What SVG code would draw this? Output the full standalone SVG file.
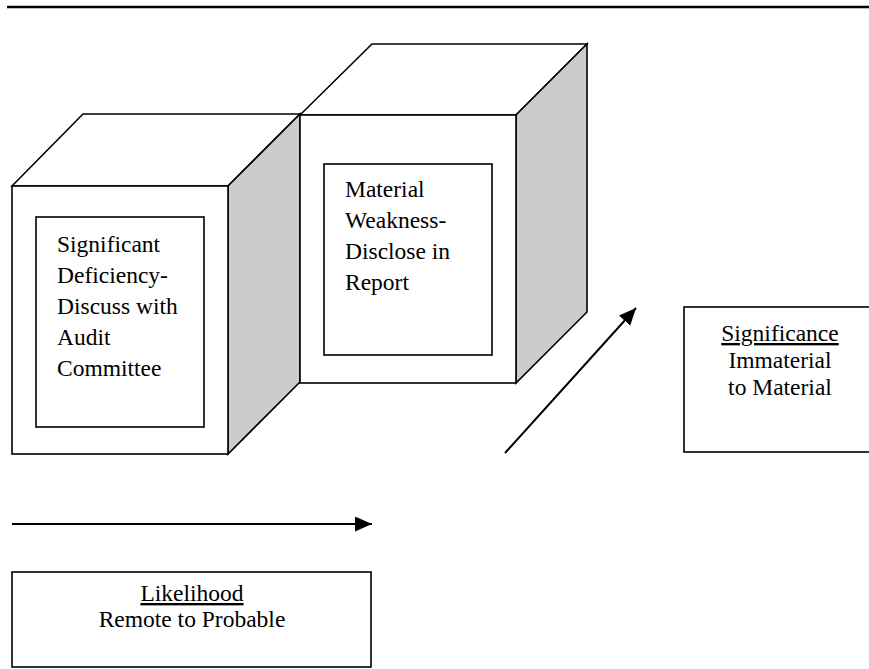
<svg xmlns="http://www.w3.org/2000/svg" width="869" height="669" viewBox="0 0 869 669">
<style>
.e{stroke:#000;stroke-width:1.6;stroke-linejoin:miter}
.w{fill:#fff}
.g{fill:#cccccc}
.b{fill:#fff;stroke:#000;stroke-width:1.6}
.t{font-family:"Liberation Serif","Times New Roman",serif;font-size:23.5px;fill:#000}
.c{text-anchor:middle}
.a{stroke:#000;stroke-width:2;fill:none}
</style>
<defs>
<marker id="ah" markerUnits="userSpaceOnUse" markerWidth="18" markerHeight="16" refX="17" refY="7.5" orient="auto">
<path d="M0,0 L17,7.5 L0,15 z" fill="#000"/>
</marker>
</defs>
<line x1="7" y1="7" x2="869" y2="7" stroke="#000" stroke-width="2.4"/>
<g id="cube-significant">
<polygon class="e w" points="12,186 83,114 300,114 228,186"/>
<polygon class="e g" points="228,186 300,114 300,382 228,454"/>
<rect class="e w" x="12" y="186" width="216" height="268"/>
<rect class="b" x="36" y="217" width="168" height="210"/>
<text class="t" x="57" y="252">Significant</text>
<text class="t" x="57" y="283">Deficiency-</text>
<text class="t" x="57" y="314">Discuss with</text>
<text class="t" x="57" y="345">Audit</text>
<text class="t" x="57" y="376">Committee</text>
</g>
<g id="cube-material">
<polygon class="e w" points="300,115 372,44 587,44 516,115"/>
<polygon class="e g" points="516,115 587,44 587,312 516,383"/>
<rect class="e w" x="300" y="115" width="216" height="268"/>
<rect class="b" x="324" y="164" width="168" height="191"/>
<text class="t" x="345" y="197">Material</text>
<text class="t" x="345" y="228">Weakness-</text>
<text class="t" x="345" y="259">Disclose in</text>
<text class="t" x="345" y="290">Report</text>
</g>
<g id="significance">
<rect class="b" x="684" y="307" width="190" height="145"/>
<text class="t c" x="780" y="341" text-decoration="underline">Significance</text>
<text class="t c" x="780" y="368">Immaterial</text>
<text class="t c" x="780" y="395">to Material</text>
</g>
<g id="likelihood">
<rect class="b" x="12" y="572" width="359" height="95"/>
<text class="t c" x="192" y="601" text-decoration="underline">Likelihood</text>
<text class="t c" x="192" y="627">Remote to Probable</text>
</g>
<g id="connectors">
<line class="a" x1="12" y1="524" x2="372" y2="524" marker-end="url(#ah)"/>
<line class="a" x1="505" y1="453" x2="636" y2="308" marker-end="url(#ah)"/>
</g>
</svg>
